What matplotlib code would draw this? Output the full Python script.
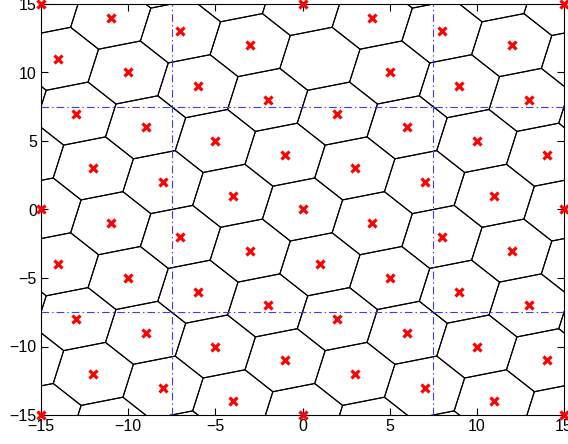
import numpy as np
import matplotlib
matplotlib.use("Agg")
import matplotlib.pyplot as plt
from matplotlib.collections import LineCollection

# lattice points shown in the chart (red crosses)
pts_x = [-15, 0, 15, -11, -7, -3, 4, 8, 12, -14, -10, -6, -2, 2, 6, 5, 9, 13,
         -13, -9, -5, -1, 3, 7, 10, 14, -12, -8, -4, 0, 4, 8, 11, -15, 15,
         -11, -7, -3, 1, 5, 9, 13, 12, -14, -10, -6, -2, 2, 6, -13, -9, -5,
         -1, 3, 7, 10, 14, -12, -8, -4, 0, 11, -15, 15]
pts_y = [15, 15, 15, 14, 13, 12, 14, 13, 12, 11, 10, 9, 8, 7, 6, 10, 9, 8,
         7, 6, 5, 4, 3, 2, 5, 4, 3, 2, 1, 0, -1, -2, 1, 0, 0,
         -1, -2, -3, -4, -5, -6, -7, -3, -4, -5, -6, -7, -8, -9, -8, -9, -10,
         -11, -12, -13, -10, -11, -12, -13, -14, -15, -14, -15, -15]

period = 15
grid_lines = [-7.5, 7.5]


def clip(poly, a, b, c):
    # keep part of polygon with a*x + b*y <= c
    out = []
    n = len(poly)
    for i in range(n):
        p = poly[i]
        q = poly[(i + 1) % n]
        fp = a * p[0] + b * p[1] - c
        fq = a * q[0] + b * q[1] - c
        if fp <= 0:
            out.append(p)
        if fp * fq < 0:
            t = fp / (fp - fq)
            out.append((p[0] + t * (q[0] - p[0]), p[1] + t * (q[1] - p[1])))
    return out


base = np.unique(np.array(list(zip(pts_x, pts_y)), dtype=float), axis=0)
shifts = [(i * period, j * period) for i in (-1, 0, 1) for j in (-1, 0, 1)]
allpts = np.unique(np.vstack([base + s for s in shifts]), axis=0)

segs = []
for p in allpts:
    if abs(p[0]) > 22 or abs(p[1]) > 22:
        continue
    d = allpts - p
    dist = np.hypot(d[:, 0], d[:, 1])
    near = allpts[(dist > 0) & (dist < 9)]
    poly = [(p[0] - 10, p[1] - 10), (p[0] + 10, p[1] - 10),
            (p[0] + 10, p[1] + 10), (p[0] - 10, p[1] + 10)]
    for q in near:
        a, b = q[0] - p[0], q[1] - p[1]
        c = (q[0] ** 2 + q[1] ** 2 - p[0] ** 2 - p[1] ** 2) / 2.0
        poly = clip(poly, a, b, c)
    for i in range(len(poly)):
        segs.append([poly[i], poly[(i + 1) % len(poly)]])

plt.rcParams["font.family"] = ["Liberation Sans", "DejaVu Sans"]
plt.rcParams["lines.scale_dashes"] = False
fig = plt.figure(figsize=(5.68, 4.44), dpi=100)
ax = fig.add_axes([41 / 568, 29 / 444, 523 / 568, 411 / 444])

ax.add_collection(LineCollection(segs, colors="black", linewidths=0.8))
dashdot = (0, (5.5, 2.2, 1.0, 2.2))
for g in grid_lines:
    ax.axvline(g, color="#3b3bff", linestyle=dashdot, linewidth=0.8)
    ax.axhline(g, color="#3b3bff", linestyle=dashdot, linewidth=0.8)
ax.plot(pts_x, pts_y, "x", color="red", markersize=5.5, markeredgewidth=2.3,
        clip_on=False, zorder=5)

ax.set_xlim(-15, 15)
ax.set_ylim(-15, 15)
ax.set_xticks(range(-15, 16, 5))
ax.set_yticks(range(-15, 16, 5))
ax.set_xticklabels([str(v).replace("-", "\u2212") for v in range(-15, 16, 5)])
ax.set_yticklabels([str(v).replace("-", "\u2212") for v in range(-15, 16, 5)])
ax.tick_params(direction="in", length=5, width=0.8, top=True, right=True,
               labelsize=11.5, pad=3)
for s in ax.spines.values():
    s.set_linewidth(0.8)

fig.savefig("out.png", dpi=100)
